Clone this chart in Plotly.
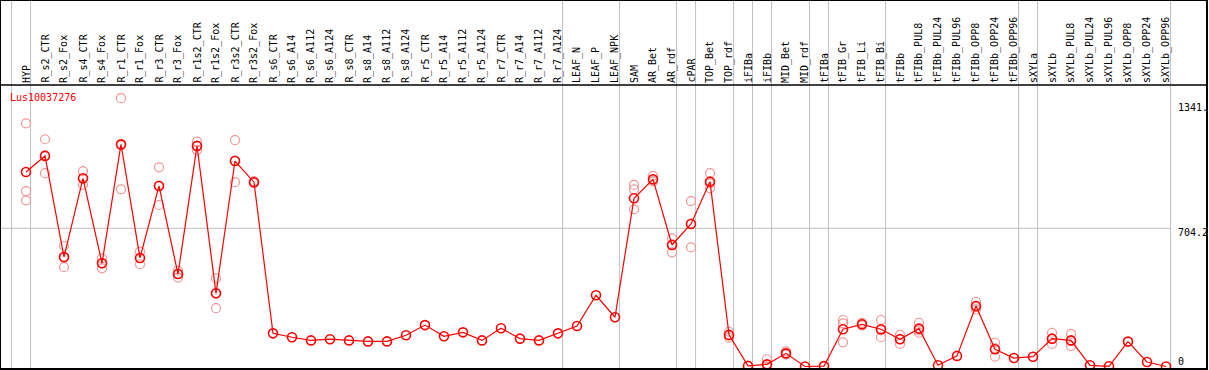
import plotly.graph_objects as go

# ---------------- data ----------------
title_text = "Lus10037276"

categories = [
    "HYP", "R_s2_CTR", "R_s2_Fox", "R_s4_CTR", "R_s4_Fox", "R_r1_CTR", "R_r1_Fox",
    "R_r3_CTR", "R_r3_Fox", "R_r1s2_CTR", "R_r1s2_Fox", "R_r3s2_CTR", "R_r3s2_Fox",
    "R_s6_CTR", "R_s6_A14", "R_s6_A112", "R_s6_A124", "R_s8_CTR", "R_s8_A14",
    "R_s8_A112", "R_s8_A124", "R_r5_CTR", "R_r5_A14", "R_r5_A112", "R_r5_A124",
    "R_r7_CTR", "R_r7_A14", "R_r7_A112", "R_r7_A124", "LEAF_N", "LEAF_P", "LEAF_NPK",
    "SAM", "AR_Bet", "AR_rdf", "cPAR", "TOP_Bet", "TOP_rdf", "iFIBa", "iFIBb",
    "MID_Bet", "MID_rdf", "tFIBa", "tFIB_Gr", "tFIB_Li", "tFIB_Bi", "tFIBb",
    "tFIBb_PUL8", "tFIBb_PUL24", "tFIBb_PUL96", "tFIBb_OPP8", "tFIBb_OPP24",
    "tFIBb_OPP96", "sXYLa", "sXYLb", "sXYLb_PUL8", "sXYLb_PUL24", "sXYLb_PUL96",
    "sXYLb_OPP8", "sXYLb_OPP24", "sXYLb_OPP96",
]

mean_vals = [
    991, 1073, 558, 959, 526, 1132, 553, 920, 471, 1124, 373, 1047, 939,
    169, 149, 133, 139, 133, 128, 128, 159, 211, 154, 174, 133, 195, 142, 133, 169,
    206, 363, 251,
    857, 954, 619, 726, 942, 161, 3, 11, 67, 0, 2, 190, 215, 190, 139,
    193, 6, 54, 308, 88, 43, 50, 142, 133, 6, 1, 127, 23, 0,
]

N = None
rep_a = [
    1239, 1158, 614, 996, 551, 1367, 585, 1015, 488, 1146, 449, 1153, 945,
    N, N, N, N, N, N, N, N, N, N, N, N, N, N, N, N, N, N, N,
    925, 971, 653, 843, 985, 177, N, 37, 77, N, N, 237, 222, 237, 161,
    223, N, N, 330, 121, N, N, 172, 166, N, N, N, N, N,
]
rep_b = [
    894, 985, 506, 925, 500, 903, 521, 823, 453, 1103, 297, 939, 935,
    N, N, N, N, N, N, N, N, N, N, N, N, N, N, N, N, N, N, N,
    903, 948, 582, 607, 908, 147, N, 0, 62, N, N, 220, 210, 149, 115,
    172, N, N, 291, 50, N, N, 115, 104, N, N, N, N, N,
]
rep_c = [
    847, 1076, 555, 957, 527, 1126, 553, 922, 472, 1123, 373, 1049, 937,
    N, N, N, N, N, N, N, N, N, N, N, N, N, N, N, N, N, N, N,
    801, 943, 622, 728, 933, 159, N, 0, 62, N, N, 123, 213, 184, 141,
    184, N, N, 303, 93, N, N, 139, 129, N, N, N, N, N,
]

y_label_vals = [1341, 704.2, 0]
y_label_text = ["1341.", "704.2", "0"]
grid_vals = [704.2]
group_starts = [0, 1, 29, 32, 35, 36, 38, 39, 40, 42, 43, 46, 53, 54, 61]

# ---------------- geometry / style ----------------
W, H = 1209, 370
ML, MR, MT, MB = 0, 2, 0, 1
plot_w = W - ML - MR
plot_h = H - MT - MB
first_px = 26.0      # pixel x of first category
step = 19.0          # pixels per category
xmin = -(first_px - ML) / step
xmax = xmin + plot_w / step
zero_px = 366.5      # pixel y of value 0
grid_px = 228.3      # pixel y of value 704.2
upp = 704.2 / (zero_px - grid_px)
ymax = (zero_px - MT) * upp
ymin = -(H - MB - zero_px) * upp
sep_px = 85.0
sep_paper = (H - MB - sep_px) / plot_h
sep_off = -0.76

FONT = "DejaVu Sans Mono"
RED = "#ff0000"
PINK = "rgb(240,150,150)"
GREY = "#c0c0c0"

xs = list(range(len(categories)))

fig = go.Figure()

rx, ry = [], []
for arr in (rep_a, rep_b, rep_c):
    for i, v in enumerate(arr):
        if v is not None:
            rx.append(i)
            ry.append(v)

fig.add_trace(go.Scatter(
    x=rx, y=ry, mode="markers",
    marker=dict(symbol="circle-open", size=9, color=PINK, line=dict(width=1.2, color=PINK)),
    hoverinfo="skip", showlegend=False,
))
fig.add_trace(go.Scatter(
    x=xs, y=mean_vals, mode="lines+markers",
    line=dict(color=RED, width=1.2),
    marker=dict(symbol="circle-open", size=9, color=RED, line=dict(width=1.6, color=RED)),
    showlegend=False,
))

shapes = []
for g in group_starts:
    shapes.append(dict(type="line", xref="x", yref="paper", x0=g + sep_off, x1=g + sep_off,
                       y0=0, y1=1, line=dict(color=GREY, width=1), layer="below"))
for gv in grid_vals:
    shapes.append(dict(type="line", xref="x", yref="y", x0=xmin, x1=group_starts[-1] + sep_off,
                       y0=gv, y1=gv, line=dict(color=GREY, width=1), layer="below"))
shapes.append(dict(type="line", xref="paper", yref="paper", x0=0, x1=1, y0=sep_paper, y1=sep_paper,
                   line=dict(color="black", width=1.5)))
shapes.append(dict(type="rect", xref="paper", yref="paper", x0=0, x1=1, y0=0, y1=1,
                   line=dict(color="black", width=2)))

annotations = []
for i, name in enumerate(categories):
    annotations.append(dict(
        x=i, xref="x", y=sep_paper, yref="paper", text=name, showarrow=False,
        textangle=-90, xanchor="center", yanchor="bottom",
        font=dict(family=FONT, size=10, color="black"),
    ))
label_x = (1176 - ML) / plot_w
for v, t in zip(y_label_vals, y_label_text):
    annotations.append(dict(
        x=label_x, xref="paper", y=v, yref="y", text=t, showarrow=False,
        xanchor="left", yanchor="middle", yshift=(5 if v == 0 else -4),
        font=dict(family=FONT, size=10, color="black"),
    ))
annotations.append(dict(
    x=(8 - ML) / plot_w, xref="paper", y=(H - MB - 97.3) / plot_h, yref="paper",
    text=title_text, showarrow=False, xanchor="left", yanchor="middle",
    font=dict(family=FONT, size=10, color=RED),
))

fig.update_layout(
    width=W, height=H,
    margin=dict(l=ML, r=MR, t=MT, b=MB, pad=0, autoexpand=False),
    paper_bgcolor="white", plot_bgcolor="white",
    xaxis=dict(range=[xmin, xmax], showgrid=False, zeroline=False, showticklabels=False,
               showline=False, ticks="", fixedrange=True),
    yaxis=dict(range=[ymin, ymax], showgrid=False, zeroline=False, showticklabels=False,
               showline=False, ticks="", fixedrange=True),
    shapes=shapes, annotations=annotations, showlegend=False,
)

fig.write_html(
    "out.html",
    config={"displayModeBar": False},
    post_script="document.body.style.margin='0';document.body.style.overflow='hidden';",
)
